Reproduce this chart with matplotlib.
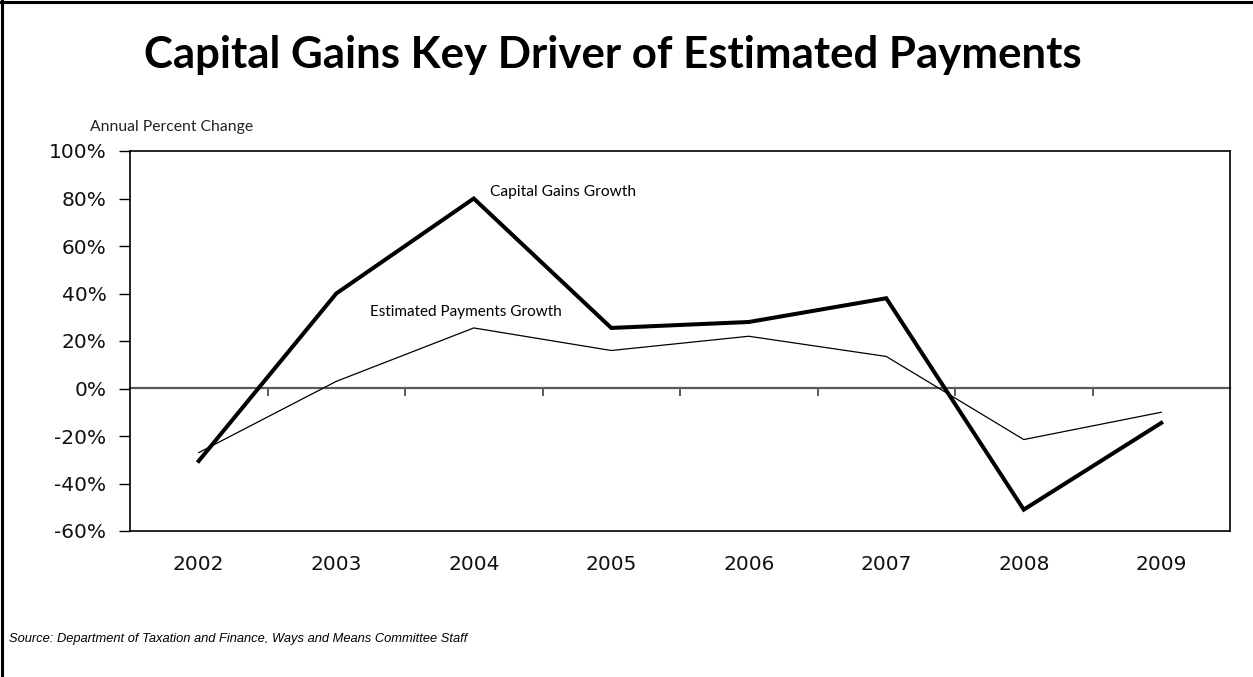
import matplotlib
matplotlib.use("Agg")
import matplotlib.pyplot as plt
from matplotlib.lines import Line2D
from matplotlib.ticker import FuncFormatter

years = ["2002", "2003", "2004", "2005", "2006", "2007", "2008", "2009"]
capital_gains = [-30.5, 40, 80, 25.5, 28, 38, -51, -14.5]
est_payments = [-27, 3, 25.5, 16, 22, 13.5, -21.5, -10]

plt.rcParams["font.family"] = ["Lato", "DejaVu Sans"]

fig = plt.figure(figsize=(12.53, 6.77), dpi=100)
ax = fig.add_axes([130 / 1253, 146 / 677, 1100 / 1253, 380 / 677])

x = list(range(len(years)))
ax.plot(x, capital_gains, color="black", lw=2.9, solid_joinstyle="miter", zorder=3)
ax.plot(x, est_payments, color="black", lw=0.9, zorder=3)

ax.set_xlim(-0.5, len(years) - 0.5)
ax.set_ylim(-60, 100)
ax.set_yticks(range(-60, 101, 20))
ax.yaxis.set_major_formatter(FuncFormatter(lambda v, _: f"{v:.0f}%"))
ax.tick_params(axis="y", direction="out", length=8, width=1, pad=9)

ax.set_xticks(x)
ax.set_xticklabels(years)
ax.tick_params(axis="x", length=0, pad=17)

for lbl in ax.get_xticklabels() + ax.get_yticklabels():
    lbl.set_fontfamily("DejaVu Sans")
    lbl.set_fontsize(14.5)
    lbl.set_color("#111111")

for s in ax.spines.values():
    s.set_linewidth(1.2)
    s.set_color("black")

# zero line with category boundary ticks
zero = ax.secondary_xaxis(0, transform=ax.transData)
zero.set_xticks([i + 0.5 for i in x[:-1]])
zero.set_xticklabels([])
zero.tick_params(direction="out", length=6, width=1.2, color="#404040")
zero.spines["bottom"].set_color("#5a5a5a")
zero.spines["bottom"].set_linewidth(1.6)

ax.text(-40 / 1100, 1 + 24 / 380, "Annual Percent Change", transform=ax.transAxes,
        fontsize=11.3, va="center", ha="left", color="#222222")
ax.annotate("Capital Gains Growth", (2, 80), xytext=(11.5, 4.5),
            textcoords="offset points", fontsize=11.2, va="center", ha="left")
ax.annotate("Estimated Payments Growth", (2, 25.5), xytext=(-75, 11.5),
            textcoords="offset points", fontsize=11, va="center", ha="left")

fig.text(0.489, 1 - 68 / 677, "Capital Gains Key Driver of Estimated Payments",
         fontsize=31.5, fontweight="bold", ha="center", va="baseline")
fig.text(9 / 1253, 1 - 639 / 677,
         "Source: Department of Taxation and Finance, Ways and Means Committee Staff",
         fontsize=9.3, style="italic", family="Liberation Sans", va="center", ha="left")

# page frame on the left and top
fig.add_artist(Line2D([0.0015, 0.0015], [0, 1], color="black", lw=2.2,
                      transform=fig.transFigure))
fig.add_artist(Line2D([0, 1], [0.9975, 0.9975], color="black", lw=2.2,
                      transform=fig.transFigure))

fig.savefig("out.png", dpi=100)
